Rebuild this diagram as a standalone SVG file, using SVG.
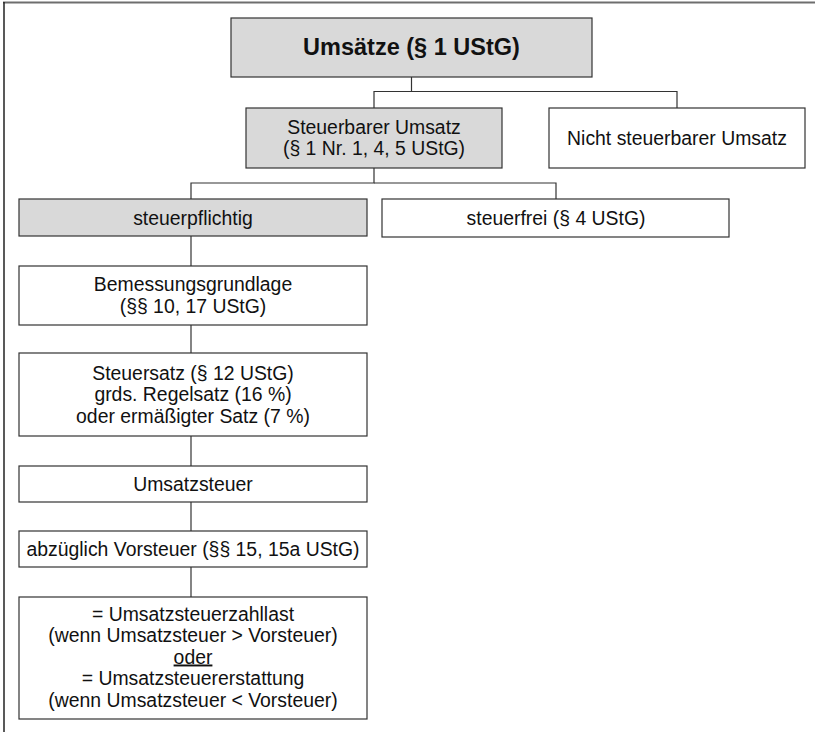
<svg xmlns="http://www.w3.org/2000/svg" width="815" height="732" viewBox="0 0 815 732">
<style>
.box{stroke:#333;stroke-width:1.2;fill:#fff}
.grey{fill:#d9d9d9}
.t{font-family:"Liberation Sans",Arial,sans-serif;font-size:19.4px;fill:#111;text-anchor:middle}
.b{font-weight:bold;font-size:23.5px}
.c{stroke:#333;stroke-width:1.2;fill:none}
</style>
<rect width="815" height="732" fill="#fff"/>
<g id="frame">
<line x1="3" y1="2.5" x2="815" y2="2.5" stroke="#6e6e6e" stroke-width="2"/>
<line x1="4" y1="2" x2="4" y2="732" stroke="#222" stroke-width="1.5"/>
</g>
<g id="connectors">
<polyline class="c" points="411.5,77 411.5,91.5 374,91.5 374,108"/>
<polyline class="c" points="411.5,91.5 677,91.5 677,108"/>
<polyline class="c" points="374,168 374,183 191,183 191,199"/>
<polyline class="c" points="374,183 556,183 556,199"/>
<line class="c" x1="191" y1="236" x2="191" y2="266"/>
<line class="c" x1="191" y1="325" x2="191" y2="353"/>
<line class="c" x1="191" y1="436" x2="191" y2="466"/>
<line class="c" x1="191" y1="502" x2="191" y2="531"/>
<line class="c" x1="191" y1="567" x2="191" y2="597"/>
</g>
<g id="umsaetze">
<rect class="box grey" x="231" y="18" width="361" height="59"/>
<text class="t b" x="411.5" y="55">Umsätze (§ 1 UStG)</text>
</g>
<g id="steuerbar">
<rect class="box grey" x="246" y="108" width="256" height="60"/>
<text class="t" x="374" y="133.5">Steuerbarer Umsatz</text>
<text class="t" x="374" y="155">(§ 1 Nr. 1, 4, 5 UStG)</text>
</g>
<g id="nicht-steuerbar">
<rect class="box" x="549" y="108" width="256" height="60"/>
<text class="t" x="677" y="145">Nicht steuerbarer Umsatz</text>
</g>
<g id="steuerpflichtig">
<rect class="box grey" x="19" y="199" width="348" height="37"/>
<text class="t" x="193" y="224.5">steuerpflichtig</text>
</g>
<g id="steuerfrei">
<rect class="box" x="382" y="199" width="347" height="38"/>
<text class="t" x="556" y="225">steuerfrei (§ 4 UStG)</text>
</g>
<g id="bemessungsgrundlage">
<rect class="box" x="19" y="266" width="348" height="59"/>
<text class="t" x="193" y="291">Bemessungsgrundlage</text>
<text class="t" x="193" y="312.5">(§§ 10, 17 UStG)</text>
</g>
<g id="steuersatz">
<rect class="box" x="19" y="353" width="348" height="83"/>
<text class="t" x="193" y="379.5">Steuersatz (§ 12 UStG)</text>
<text class="t" x="193" y="401">grds. Regelsatz (16 %)</text>
<text class="t" x="193" y="422.5">oder ermäßigter Satz (7 %)</text>
</g>
<g id="umsatzsteuer">
<rect class="box" x="19" y="466" width="348" height="36"/>
<text class="t" x="193" y="490.5">Umsatzsteuer</text>
</g>
<g id="vorsteuer">
<rect class="box" x="19" y="531" width="348" height="36"/>
<text class="t" x="193" y="555.5">abzüglich Vorsteuer (§§ 15, 15a UStG)</text>
</g>
<g id="ergebnis">
<rect class="box" x="19" y="597" width="348" height="122"/>
<text class="t" x="193" y="620.5">= Umsatzsteuerzahllast</text>
<text class="t" x="193" y="642">(wenn Umsatzsteuer &gt; Vorsteuer)</text>
<text class="t" x="193" y="663.5" text-decoration="underline">oder</text>
<text class="t" x="193" y="685">= Umsatzsteuererstattung</text>
<text class="t" x="193" y="706.5">(wenn Umsatzsteuer &lt; Vorsteuer)</text>
</g>
</svg>
